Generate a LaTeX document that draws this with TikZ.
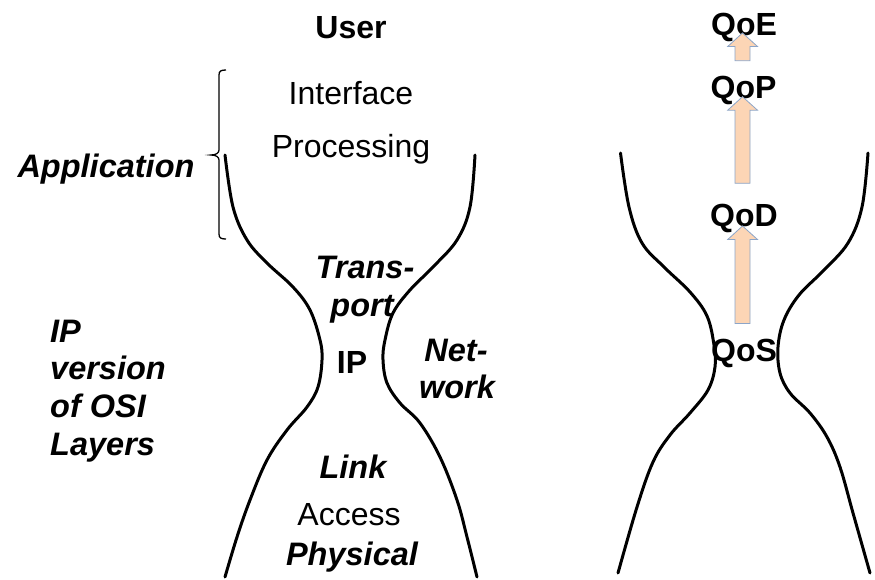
\documentclass[tikz,border=0pt]{standalone}
\usepackage{fontspec}
\setmainfont{Liberation Sans}
\begin{document}
\begin{tikzpicture}[x=1pt,y=-1pt,
  txt/.style={inner sep=0pt,anchor=base,font=\fontsize{32}{38}\selectfont},
  bt/.style={txt,font=\fontsize{32}{38}\selectfont\bfseries},
  bit/.style={txt,font=\fontsize{32.5}{38}\selectfont\bfseries\itshape},
  glass/.style={line width=3pt,line cap=round},
  qarr/.style={draw={rgb,255:red,140;green,165;blue,200},line width=0.8pt,fill={rgb,255:red,252;green,213;blue,181},line join=miter}]
\useasboundingbox (0,0) rectangle (875,579);
% left hourglass
\draw[glass] plot[smooth,tension=0.6] coordinates {(225,155) (233,207) (247,240) (267,263) (293,287) (310,310) (320,340) (322,360) (318,387) (307,407) (287,430) (267,460) (250,500) (237,537) (225,577)};
\draw[glass] plot[smooth,tension=0.6] coordinates {(475,155) (470,207) (457,240) (433,267) (410,290) (393,313) (385,340) (383,360) (387,383) (400,403) (420,423) (440,457) (457,500) (467,537) (477,577)};
% right hourglass
\draw[glass] plot[smooth,tension=0.6] coordinates {(620.5,153) (629,207) (642,243) (664,267) (690,292) (707,316) (714,345) (715,367) (708,390) (690,413) (670,435) (653,462) (637,507) (618,573)};
\draw[glass] plot[smooth,tension=0.6] coordinates {(868,153) (862,207) (848,243) (823,271) (799,295) (784,320) (778,347) (780,373) (790,393) (810,413) (827,437) (840,467) (853,513) (870,573)};
% bracket
\draw[line width=1.3pt] (226,70) .. controls (221,70) and (219,71) .. (219,75) -- (219,150) .. controls (219,153) and (216,155) .. (211,155) .. controls (216,155) and (219,157) .. (219,160) -- (219,234) .. controls (219,238) and (221,239) .. (226,239);
% texts
\node[bt] (user) at (351,38) {User};
\node[txt] (interface) at (351,104) {Interface};
\node[txt] (processing) at (351,157) {Processing};
\node[bit] (application) at (106,177) {Application};
\node[bit,anchor=base west] (ipv1) at (50,342) {IP};
\node[bit,anchor=base west] (ipv2) at (50,379.5) {version};
\node[bit,anchor=base west] (ipv3) at (50,417) {of OSI};
\node[bit,anchor=base west] (ipv4) at (50,455) {Layers};
\node[bit] (trans) at (365,278) {Trans-};
\node[bit] (port) at (362,316.5) {port};
\node[bt] (ip) at (352,373) {IP};
\node[bit] (net) at (456,361.5) {Net-};
\node[bit] (work) at (457,398.5) {work};
\node[bit] (link) at (353,478) {Link};
\node[txt] (access) at (349,525) {Access};
\node[bit] (physical) at (352,565) {Physical};
\node[bt] (qoe) at (744,35) {QoE};
\node[bt] (qop) at (743.5,98.5) {QoP};
\node[bt] (qod) at (744,226.5) {QoD};
\node[bt] (qos) at (744,361.5) {QoS};
% block arrows
\newcommand\qblock[2]{\draw[qarr] (735,#2) -- (735,#1+13.5) -- (727.7,#1+13.5) -- (742.5,#1) -- (757.5,#1+13.5) -- (750,#1+13.5) -- (750,#2) -- cycle;}
\qblock{33}{60.7}
\qblock{96.7}{183.3}
\qblock{226}{323.5}
\end{tikzpicture}
\end{document}
